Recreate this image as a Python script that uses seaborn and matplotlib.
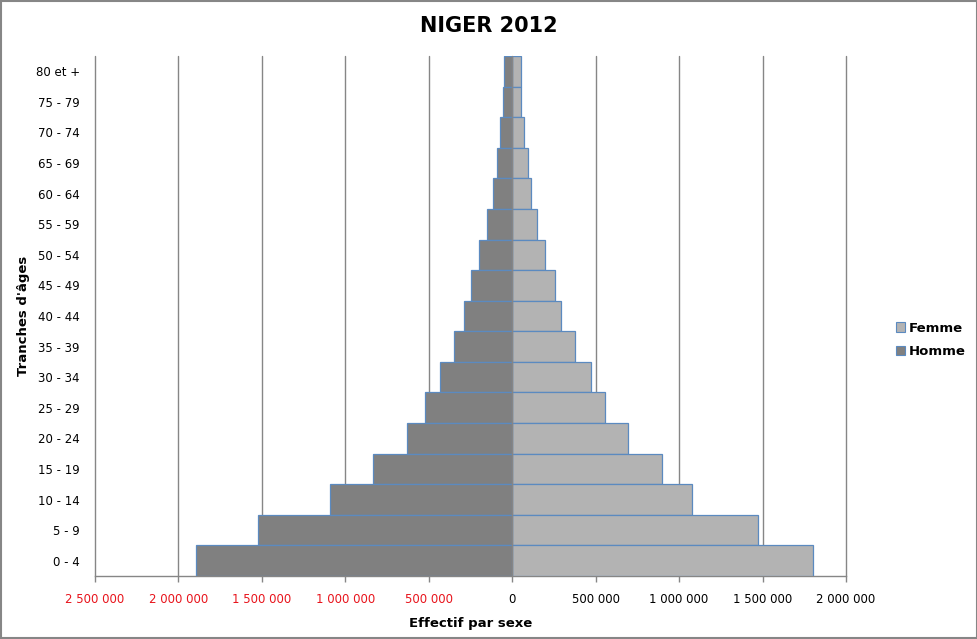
import pandas as pd
import matplotlib.pyplot as plt
import matplotlib.patches as mpatches
from matplotlib.ticker import FuncFormatter
import seaborn as sns

# Tranches d'âges, du haut vers le bas
tranches = ['80 et +', '75 - 79', '70 - 74', '65 - 69', '60 - 64', '55 - 59',
            '50 - 54', '45 - 49', '40 - 44', '35 - 39', '30 - 34', '25 - 29',
            '20 - 24', '15 - 19', '10 - 14', '5 - 9', '0 - 4']

# effectifs (Niger 2012)
homme = [50000, 56000, 74000, 92000, 116000, 152000, 198000, 248000, 288000,
         348000, 433000, 520000, 630000, 835000, 1093000, 1525000, 1896000]
femme = [54000, 52000, 70000, 94000, 112000, 147000, 195000, 255000, 292000,
         378000, 470000, 553000, 692000, 896000, 1076000, 1470000, 1805000]

xticks = [-2500000, -2000000, -1500000, -1000000, -500000, 0,
          500000, 1000000, 1500000, 2000000]

couleurs = {'Femme': '#b3b3b3', 'Homme': '#808080'}
bord = '#5b8ac0'

df = pd.concat([
    pd.DataFrame({'tranche': tranches, 'effectif': femme, 'sexe': 'Femme'}),
    pd.DataFrame({'tranche': tranches, 'effectif': [-v for v in homme], 'sexe': 'Homme'}),
], ignore_index=True)

sns.set_style('white')
plt.rcParams['font.family'] = ['DejaVu Sans']
plt.rcParams['text.color'] = 'black'
plt.rcParams['axes.labelcolor'] = 'black'
plt.rcParams['xtick.color'] = 'black'
plt.rcParams['ytick.color'] = 'black'

fig = plt.figure(figsize=(9.78, 6.39), dpi=100)
ax = fig.add_axes([95 / 978, 63 / 639, 751 / 978, 520 / 639])

sns.barplot(data=df, x='effectif', y='tranche', hue='sexe', order=tranches,
            hue_order=['Femme', 'Homme'], palette=couleurs, dodge=False,
            width=1.0, edgecolor=bord, linewidth=0.9, orient='h', ax=ax,
            legend=False, zorder=3)

ax.set_xlim(-2500000, 2000000)
ax.set_ylim(len(tranches) - 0.5, -0.5)
ax.set_xticks(xticks)
ax.xaxis.set_major_formatter(FuncFormatter(lambda v, p: f'{abs(int(v)):,}'.replace(',', ' ')))

ax.grid(axis='x', color='#868686', linewidth=1, zorder=0)
ax.grid(axis='y', visible=False)
for gl in ax.get_xgridlines():
    gl.set_clip_on(False)
ax.axvline(0, color='#868686', linewidth=1, zorder=4)

for s in ['top', 'right', 'left']:
    ax.spines[s].set_visible(False)
ax.spines['bottom'].set_color('#868686')
ax.spines['bottom'].set_linewidth(1)

ax.tick_params(axis='x', which='major', direction='out', length=4, width=1,
               color='#868686', labelsize=8.5, pad=8)
ax.tick_params(axis='y', length=0, labelsize=8.5, pad=11)
ax.xaxis.set_ticks_position('bottom')

for lab, v in zip(ax.get_xticklabels(), xticks):
    lab.set_color('#e8141c' if v < 0 else 'black')

ax.set_xlabel('Effectif par sexe', fontsize=9.5, fontweight='bold', labelpad=8)
ax.set_ylabel("Tranches d'âges", fontsize=9.5, fontweight='bold', labelpad=4)

fig.suptitle('NIGER 2012', x=0.5, y=1 - 26 / 639, va='center',
             fontsize=15, fontweight='bold', color='black')

handles = [mpatches.Patch(facecolor=couleurs[k], edgecolor=bord, linewidth=0.8, label=k)
           for k in ['Femme', 'Homme']]
fig.legend(handles=handles, loc='center left', bbox_to_anchor=(884 / 978, 1 - 340 / 639),
           frameon=False, handlelength=0.7, handleheight=0.7, handletextpad=0.25,
           labelspacing=0.8, prop={'weight': 'bold', 'size': 9.5})

# cadre extérieur gris
fig.patches.append(mpatches.Rectangle((0.001, 0.001), 0.998, 0.997, transform=fig.transFigure,
                                      fill=False, edgecolor='#868686', linewidth=1.5))

fig.savefig('out.png', dpi=100)
plt.close()
